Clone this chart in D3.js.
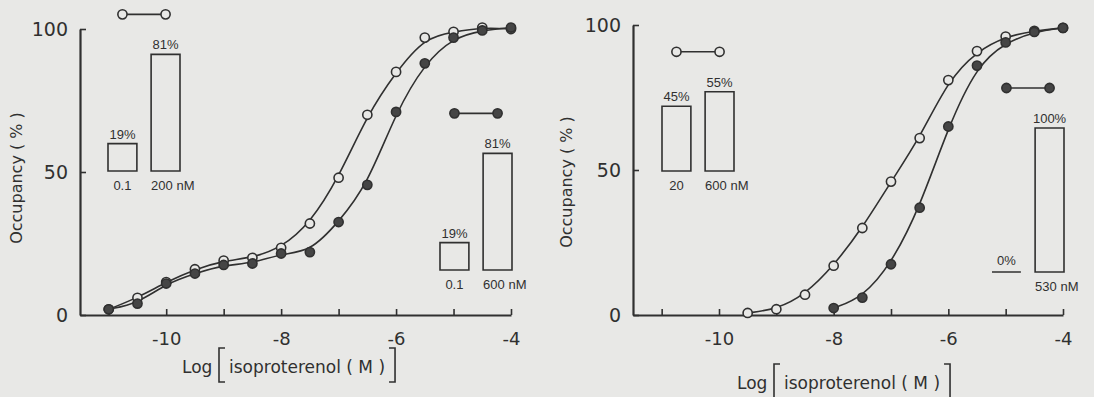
<!DOCTYPE html>
<html>
<head>
<meta charset="utf-8">
<script src="https://cdn.jsdelivr.net/npm/d3@7"></script>
<style>
  body { margin: 0; background: #e8e8e6; }
  svg { display: block; }
</style>
</head>
<body>
<script>
const width = 1094;
const height = 397;
const ink = "#303030";
const paper = "#e8e8e6";

// axis ticks
const xTicks = [-11, -10, -9, -8, -7, -6, -5, -4];
const yTicks = [0, 50, 100];

// left panel: log[isoproterenol] vs occupancy (%)
const leftX = [-11, -10.5, -10, -9.5, -9, -8.5, -8, -7.5, -7, -6.5, -6, -5.5, -5, -4.5, -4];
const leftOpen = [2, 6, 11.5, 16, 19, 20, 23.5, 32, 48, 70, 85, 97, 99, 100.5, 100];
const leftFilled = [2, 4, 11, 14.5, 17.5, 18, 21.5, 22, 32.5, 45.5, 71, 88, 97, 99.5, 100.5];

// right panel
const rightOpenX = [-9.5, -9, -8.5, -8, -7.5, -7, -6.5, -6, -5.5, -5, -4.5, -4];
const rightOpen = [0.7, 2, 7, 17, 30, 46, 61, 81, 91, 96, 98, 99];
const rightFilledX = [-8, -7.5, -7, -6.5, -6, -5.5, -5, -4.5, -4];
const rightFilled = [2.4, 6, 17.5, 37, 65, 86, 94, 97.6, 99];

// inset bars (site proportions)
const leftOpenBarLabels = ["0.1", "200 nM"];
const leftOpenBarValues = [19, 81];
const leftFilledBarLabels = ["0.1", "600 nM"];
const leftFilledBarValues = [19, 81];
const rightOpenBarLabels = ["20", "600 nM"];
const rightOpenBarValues = [45, 55];
const rightFilledBarLabels = ["", "530 nM"];
const rightFilledBarValues = [0, 100];

const svg = d3
  .select("body")
  .append("svg")
  .attr("width", width)
  .attr("height", height)
  .attr("viewBox", [0, 0, width, height]);

// bar height in px per percent
const barScale = d3.scaleLinear([0, 100], [0, 144]);

function marker(sel, filled) {
  sel
    .attr("r", 4.6)
    .attr("fill", filled ? "#454545" : paper)
    .attr("stroke", ink)
    .attr("stroke-width", 1.6);
}

function drawInset(g, labels, values, filled, x0, baseline) {
  const bx = d3.scaleBand(d3.range(values.length), [x0, x0 + 72]).paddingInner(0.33);
  const bw = bx.bandwidth();
  const items = values.map((v, i) => ({ v, label: labels[i], i }));

  g.selectAll(null)
    .data(items)
    .join("path")
    .attr("fill", "none")
    .attr("stroke", ink)
    .attr("stroke-width", 1.6)
    .attr("d", (d) => {
      const h = barScale(d.v);
      return `M${bx(d.i)},${baseline}v${-h}h${bw}v${h}Z`;
    });

  g.selectAll(null)
    .data(items)
    .join("text")
    .attr("x", (d) => bx(d.i) + bw / 2)
    .attr("y", (d) => baseline - barScale(d.v) - (d.v === 0 ? 7 : 5))
    .attr("text-anchor", "middle")
    .attr("font-family", "Liberation Sans, sans-serif")
    .attr("font-size", 13)
    .attr("fill", ink)
    .text((d) => d.v + "%");

  g.selectAll(null)
    .data(items.filter((d) => d.label))
    .join("text")
    .attr("x", (d) => (d.label.includes("nM") ? bx(d.i) : bx(d.i) + bw / 2))
    .attr("y", baseline + 19)
    .attr("text-anchor", (d) => (d.label.includes("nM") ? "start" : "middle"))
    .attr("font-family", "Liberation Sans, sans-serif")
    .attr("font-size", 13)
    .attr("fill", ink)
    .text((d) => d.label);

  // legend symbol above the bars
  const ly = baseline - barScale(d3.max(values)) - 40;
  const c0 = bx(0) + bw / 2;
  const c1 = bx(1) + bw / 2;
  g.append("line")
    .attr("x1", c0).attr("x2", c1)
    .attr("y1", ly).attr("y2", ly)
    .attr("stroke", ink)
    .attr("stroke-width", 1.6);
  g.selectAll(null)
    .data([c0, c1])
    .join("circle")
    .attr("cx", (d) => d)
    .attr("cy", ly)
    .call(marker, filled);
}

function drawPanel(p) {
  const x = d3.scaleLinear([-11.5, -4], [p.left, p.right]);
  const y = d3.scaleLinear([0, 100], [p.bottom, p.top]);
  const g = svg.append("g");

  // x-axis, ticks pointing inward
  g.append("g")
    .attr("transform", `translate(0,${p.bottom})`)
    .call(
      d3.axisBottom(x)
        .tickValues(xTicks)
        .tickSize(-6)
        .tickSizeOuter(0)
        .tickPadding(17)
        .tickFormat((d) => (d % 2 === 0 ? String(d) : "")),
    )
    .call((a) => a.attr("font-family", "DejaVu Sans, sans-serif").attr("font-size", 18))
    .call((a) => a.select(".domain").attr("stroke", ink).attr("stroke-width", 2.2))
    .call((a) => a.selectAll(".tick line").attr("stroke", ink).attr("stroke-width", 1.6))
    .call((a) => a.selectAll(".tick text").attr("fill", ink));

  // y-axis
  g.append("g")
    .attr("transform", `translate(${p.left},0)`)
    .call(
      d3.axisLeft(y)
        .tickValues(yTicks)
        .tickSize(-6)
        .tickSizeOuter(0)
        .tickPadding(12),
    )
    .call((a) => a.attr("font-family", "DejaVu Sans, sans-serif").attr("font-size", 19))
    .call((a) => a.select(".domain").attr("stroke", ink).attr("stroke-width", 2.2))
    .call((a) => a.selectAll(".tick line").attr("stroke", ink).attr("stroke-width", 1.6))
    .call((a) => a.selectAll(".tick text").attr("fill", ink));

  // fitted curves
  const series = [
    { xs: p.openX, ys: p.open, filled: false },
    { xs: p.filledX, ys: p.filled, filled: true },
  ];
  for (const s of series) {
    const line = d3
      .line()
      .x((d, i) => x(s.xs[i]))
      .y((d) => y(d))
      .curve(d3.curveBasis);
    g.append("path")
      .attr("fill", "none")
      .attr("stroke", ink)
      .attr("stroke-width", 1.6)
      .attr("d", line(s.ys));
  }
  for (const s of series) {
    g.selectAll(null)
      .data(s.ys)
      .join("circle")
      .attr("cx", (d, i) => x(s.xs[i]))
      .attr("cy", (d) => y(d))
      .call(marker, s.filled);
  }

  // y title
  g.append("text")
    .attr("transform", `translate(${p.yTitle[0]},${p.yTitle[1]}) rotate(-90)`)
    .attr("text-anchor", "middle")
    .attr("font-family", "DejaVu Sans, sans-serif")
    .attr("font-size", 16)
    .attr("fill", ink)
    .text("Occupancy ( % )");

  // x title with tall brackets
  const [tx, ty] = p.xTitle;
  const font = (t) => t.attr("font-family", "DejaVu Sans, sans-serif").attr("font-size", 17).attr("fill", ink);
  g.append("text").attr("x", tx).attr("y", ty).call(font).text("Log");
  const bracket = (bx, dir) =>
    g.append("path")
      .attr("fill", "none")
      .attr("stroke", ink)
      .attr("stroke-width", 1.6)
      .attr("d", `M${bx + 6 * dir},${ty - 25}h${-6 * dir}v34h${6 * dir}`);
  bracket(tx + 37, 1);
  const inner = g.append("text").attr("x", tx + 47).attr("y", ty).call(font).text("isoproterenol ( M )");
  const len = inner.node().getComputedTextLength();
  bracket(tx + 47 + len + 10, -1);

  for (const ins of p.insets) {
    drawInset(g, ins.labels, ins.values, ins.filled, ins.x0, ins.baseline);
  }
}

drawPanel({
  left: 80, right: 511, top: 29, bottom: 315,
  openX: leftX, open: leftOpen, filledX: leftX, filled: leftFilled,
  yTitle: [22, 178], xTitle: [182, 373],
  insets: [
    { labels: leftOpenBarLabels, values: leftOpenBarValues, filled: false, x0: 108, baseline: 171 },
    { labels: leftFilledBarLabels, values: leftFilledBarValues, filled: true, x0: 440, baseline: 270 },
  ],
});

drawPanel({
  left: 633, right: 1063, top: 25, bottom: 315,
  openX: rightOpenX, open: rightOpen, filledX: rightFilledX, filled: rightFilled,
  yTitle: [572, 182], xTitle: [737, 389],
  insets: [
    { labels: rightOpenBarLabels, values: rightOpenBarValues, filled: false, x0: 662, baseline: 171 },
    { labels: rightFilledBarLabels, values: rightFilledBarValues, filled: true, x0: 992, baseline: 272 },
  ],
});
</script>
</body>
</html>
